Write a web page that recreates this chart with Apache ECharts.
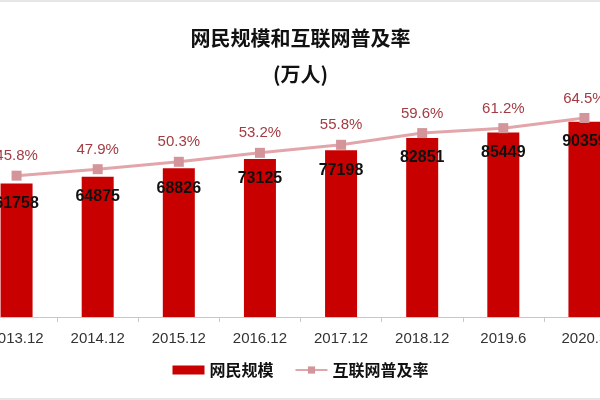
<!DOCTYPE html>
<html>
<head>
<meta charset="utf-8">
<script src="https://cdn.jsdelivr.net/npm/echarts@6/dist/echarts.min.js"></script>
<style>html,body{margin:0;padding:0;background:#fff;overflow:hidden;width:600px;height:400px}#c{width:649px;height:400px;margin-left:-24px}</style>
</head>
<body>
<div id="c"></div>
<script>
const categories = ['2013.12','2014.12','2015.12','2016.12','2017.12','2018.12','2019.6','2020.3'];
const users = [61758, 64875, 68826, 73125, 77198, 82851, 85449, 90359];
const rate = [45.8, 47.9, 50.3, 53.2, 55.8, 59.6, 61.2, 64.5];
const seriesNames = ['网民规模', '互联网普及率'];

const chart = echarts.init(document.getElementById('c'));
chart.setOption({
  backgroundColor: '#fff',
  animation: false,
  graphic: [
    {type: 'rect', left: 0, top: 0, shape: {width: 649, height: 2}, style: {fill: '#e6e6e6'}, silent: true},
    {type: 'rect', left: 0, top: 398, shape: {width: 649, height: 2}, style: {fill: '#e6e6e6'}, silent: true}
  ],
  title: {
    text: '网民规模和互联网普及率\n(万人)',
    left: 'center',
    top: 15,
    textStyle: {fontSize: 20, fontWeight: 'bold', color: '#111', lineHeight: 36, fontFamily: 'Noto Sans CJK SC'}
  },
  legend: {
    data: [{name: seriesNames[0], icon: 'rect'}, {name: seriesNames[1]}],
    bottom: 17,
    left: 'center',
    itemWidth: 32,
    itemHeight: 9,
    itemGap: 21,
    textStyle: {fontSize: 16, fontWeight: 'bold', color: '#111', fontFamily: 'Noto Sans CJK SC'}
  },
  grid: {left: 0, right: 0, top: 101, bottom: 83, containLabel: false},
  xAxis: {
    type: 'category',
    data: categories,
    axisLine: {lineStyle: {color: '#c8c8c8', width: 1}},
    axisTick: {show: true, length: 5, lineStyle: {color: '#c8c8c8'}},
    axisLabel: {fontSize: 15, color: '#333', margin: 14, fontFamily: 'Liberation Sans'}
  },
  yAxis: [
    {type: 'value', min: 0, max: 100000, show: false},
    {type: 'value', min: 0, max: 70, show: false}
  ],
  series: [
    {
      name: seriesNames[0],
      type: 'bar',
      data: users,
      barWidth: 32,
      itemStyle: {color: '#c80000'},
      label: {show: true, position: 'insideTop', distance: 12, fontSize: 16, fontWeight: 'bold', color: '#111', fontFamily: 'Liberation Sans'}
    },
    {
      name: seriesNames[1],
      type: 'line',
      yAxisIndex: 1,
      data: rate,
      symbol: 'rect',
      symbolSize: 10,
      lineStyle: {color: '#e2a6aa', width: 3},
      itemStyle: {color: '#d4959a'},
      label: {show: true, position: 'top', distance: 7, fontSize: 15, color: '#a33c42', formatter: p => p.value + '%', fontFamily: 'Liberation Sans'}
    }
  ]
});
</script>
</body>
</html>
